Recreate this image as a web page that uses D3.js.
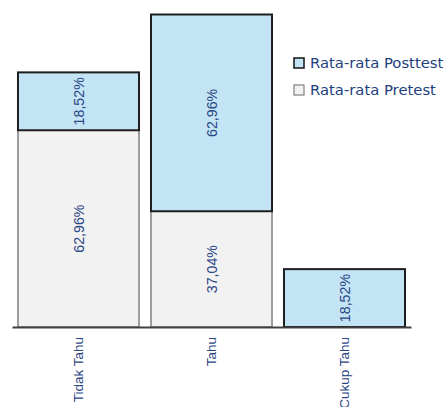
<!DOCTYPE html>
<html>
<head>
<meta charset="utf-8">
<script src="https://cdn.jsdelivr.net/npm/d3@7/dist/d3.min.js"></script>
<style>
  html, body { margin: 0; padding: 0; background: #ffffff; }
  svg { display: block; }
</style>
</head>
<body>
<script>
// Categories and series (percent of respondents)
const categories = ["Tidak Tahu", "Tahu", "Cukup Tahu"];
const pretest = [62.96, 37.04, 0];
const posttest = [18.52, 62.96, 18.52];
const seriesNames = ["Rata-rata Pretest", "Rata-rata Posttest"];

const W = 444, H = 407;
const svg = d3.select("body").append("svg").attr("width", W).attr("height", H);

const x = d3.scaleBand().domain(categories).range([12, 411]).paddingInner(0.09).paddingOuter(0.045);
const y = d3.scaleLinear().domain([0, 100]).range([327, 14.5]);

const rows = categories.map((c, i) => ({ cat: c, pre: pretest[i], post: posttest[i] }));
const stack = d3.stack().keys(["pre", "post"])(rows);

const fills = { pre: "#f2f2f2", post: "#c3e4f4" };
const strokes = { pre: "#7f7f7f", post: "#1e1e1e" };
const strokeW = { pre: 1.5, post: 2 };
const labelColor = "#2a4684";
const fmt = v => d3.format(".2f")(v).replace(".", ",") + "%";

stack.forEach(layer => {
  const key = layer.key;
  const g = svg.append("g");
  layer.forEach(d => {
    const v = d[1] - d[0];
    if (v <= 0) return;
    const x0 = x(d.data.cat), bw = x.bandwidth();
    g.append("rect")
      .attr("x", x0).attr("y", y(d[1]))
      .attr("width", bw).attr("height", y(d[0]) - y(d[1]))
      .attr("fill", fills[key]).attr("stroke", strokes[key]).attr("stroke-width", strokeW[key]);
    const cx = x0 + bw / 2, cy = (y(d[0]) + y(d[1])) / 2;
    g.append("text")
      .attr("transform", `translate(${cx},${cy}) rotate(-90)`)
      .attr("text-anchor", "middle").attr("dy", "0.36em")
      .attr("font-family", "Liberation Sans, Arial, sans-serif").attr("font-size", 14.2)
      .attr("fill", labelColor)
      .text(fmt(v));
  });
});

// Baseline axis with rotated category labels
const axis = d3.axisBottom(x).tickSize(0).tickPadding(0);
const ax = svg.append("g").attr("transform", `translate(0,${y(0)})`).call(axis);
ax.select(".domain").attr("stroke", "#404040").attr("stroke-width", 2);
ax.selectAll(".tick text")
  .attr("transform", "rotate(-90)")
  .attr("text-anchor", "end")
  .attr("x", -10).attr("y", 0).attr("dy", "0.36em")
  .attr("font-family", "Liberation Sans, Arial, sans-serif").attr("font-size", 13.5)
  .attr("fill", labelColor);

// Legend (posttest first, pretest second)
const legendItems = [
  { name: seriesNames[1], key: "post" },
  { name: seriesNames[0], key: "pre" }
];
const lg = svg.append("g");
legendItems.forEach((it, i) => {
  const ly = 63 + i * 27;
  lg.append("rect").attr("x", 294).attr("y", ly - 5).attr("width", 10).attr("height", 10)
    .attr("fill", fills[it.key]).attr("stroke", it.key === "post" ? "#1e1e1e" : "#8a8a8a").attr("stroke-width", it.key === "post" ? 1.6 : 1.3);
  lg.append("text").attr("x", 310).attr("y", ly + 5)
    .attr("font-family", "DejaVu Sans, sans-serif").attr("font-size", 14.8)
    .attr("fill", "#22407e")
    .text(it.name);
});
</script>
</body>
</html>
